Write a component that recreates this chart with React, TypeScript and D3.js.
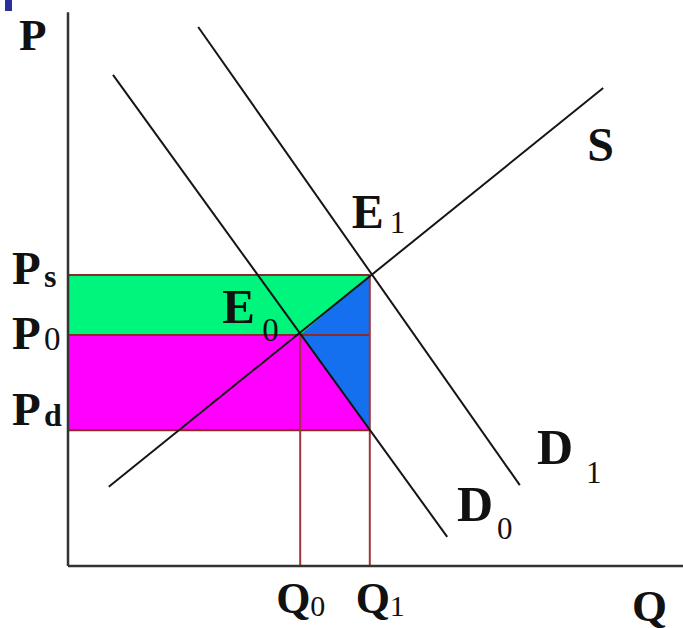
import React from 'react';
import * as d3 from 'd3';

// Market values (abstract units, origin at axis crossing)
const Q0 = 38.7;
const Q1 = 50.3;
const Ps = 52.9;
const P0 = 42;
const Pd = 24.7;
const supplyLine: [number, number][] = [[6.8, 14.4], [89.2, 86.9]];
const demand0Line: [number, number][] = [[7.5, 89.3], [63.2, 5.3]];
const demand1Line: [number, number][] = [[21.7, 98], [75.3, 14.7]];
const axisMaxX = 102.5;
const axisMaxY = 100.7;

const W = 683;
const H = 628;
const FONT = "'Liberation Serif', 'Times New Roman', serif";

export default function App() {
  const x = d3.scaleLinear().domain([0, 100]).range([68, 668]);
  const y = d3.scaleLinear().domain([0, 100]).range([566, 16]);
  const line = d3.line<[number, number]>().x(d => x(d[0])).y(d => y(d[1]));

  const lineColor = '#8b2a2a';
  const curveColor = '#151515';

  const blueTri: [number, number][] = [[Q0, P0], [Q1, Ps], [Q1, Pd]];

  const Lbl = ({ x: lx, y: ly, size, bold = true, children }: any) => (
    <text x={lx} y={ly} fontFamily={FONT} fontSize={size} fontWeight={bold ? 'bold' : 'normal'} fill="#111">
      {children}
    </text>
  );

  return (
    <svg width={W} height={H} style={{ position: 'absolute', left: 0, top: 0, background: '#fff' }}>
      <rect x={5} y={0} width={7} height={11} fill="#2b2f9e" />
      {/* fills */}
      <rect x={x(0)} y={y(Ps)} width={x(Q1) - x(0)} height={y(P0) - y(Ps)} fill="#00f57c" />
      <rect x={x(0)} y={y(P0)} width={x(Q1) - x(0)} height={y(Pd) - y(P0)} fill="#ff00ff" />
      <path d={line(blueTri) + 'Z'} fill="#1470ee" />

      {/* price lines */}
      {[Ps, P0, Pd].map((p, i) => (
        <line key={i} x1={x(0)} x2={x(Q1)} y1={y(p)} y2={y(p)} stroke={lineColor} strokeWidth={2} />
      ))}
      <line x1={x(Q0)} x2={x(Q0)} y1={y(P0)} y2={y(0)} stroke="#a0343e" strokeWidth={2} />
      <line x1={x(Q1)} x2={x(Q1)} y1={y(Ps)} y2={y(0)} stroke="#a0343e" strokeWidth={2} />

      {/* curves */}
      <path d={line(supplyLine) || ''} stroke={curveColor} strokeWidth={2} fill="none" />
      <path d={line(demand0Line) || ''} stroke={curveColor} strokeWidth={2} fill="none" />
      <path d={line(demand1Line) || ''} stroke={curveColor} strokeWidth={2} fill="none" />

      {/* axes */}
      <line x1={x(0)} x2={x(0)} y1={y(axisMaxY)} y2={y(0)} stroke="#333" strokeWidth={2.5} />
      <line x1={x(0)} x2={x(axisMaxX)} y1={y(0)} y2={y(0)} stroke="#333" strokeWidth={2.5} />

      {/* axis labels */}
      <Lbl x={19} y={50} size={45}>P</Lbl>
      <Lbl x={x(axisMaxX) - 51} y={621} size={45}>Q</Lbl>

      <Lbl x={12} y={y(Ps) + 9} size={47}>P</Lbl>
      <Lbl x={44} y={y(Ps) + 12} size={32}>s</Lbl>
      <Lbl x={12} y={y(P0) + 14} size={47}>P</Lbl>
      <Lbl x={44} y={y(P0) + 15} size={33} bold={false}>0</Lbl>
      <Lbl x={12} y={y(Pd) - 5} size={47}>P</Lbl>
      <Lbl x={44} y={y(Pd) - 4} size={32}>d</Lbl>

      <Lbl x={x(Q0) - 24} y={613} size={44}>Q</Lbl>
      <Lbl x={x(Q0) + 10} y={616} size={30} bold={false}>0</Lbl>
      <Lbl x={x(Q1) - 14} y={613} size={44}>Q</Lbl>
      <Lbl x={x(Q1) + 20} y={616} size={30} bold={false}>1</Lbl>

      <Lbl x={x(Q0) - 78} y={y(P0) - 12} size={49}>E</Lbl>
      <Lbl x={x(Q0) - 38} y={y(P0) + 6} size={33} bold={false}>0</Lbl>
      <Lbl x={x(Q1) - 18} y={y(Ps) - 47} size={48}>E</Lbl>
      <Lbl x={x(Q1) + 20} y={y(Ps) - 42} size={31} bold={false}>1</Lbl>

      <Lbl x={x(supplyLine[1][0]) - 16} y={161} size={48}>S</Lbl>
      <Lbl x={537} y={464} size={50}>D</Lbl>
      <Lbl x={586} y={483} size={31} bold={false}>1</Lbl>
      <Lbl x={457} y={521} size={50}>D</Lbl>
      <Lbl x={497} y={539} size={31} bold={false}>0</Lbl>
    </svg>
  );
}
